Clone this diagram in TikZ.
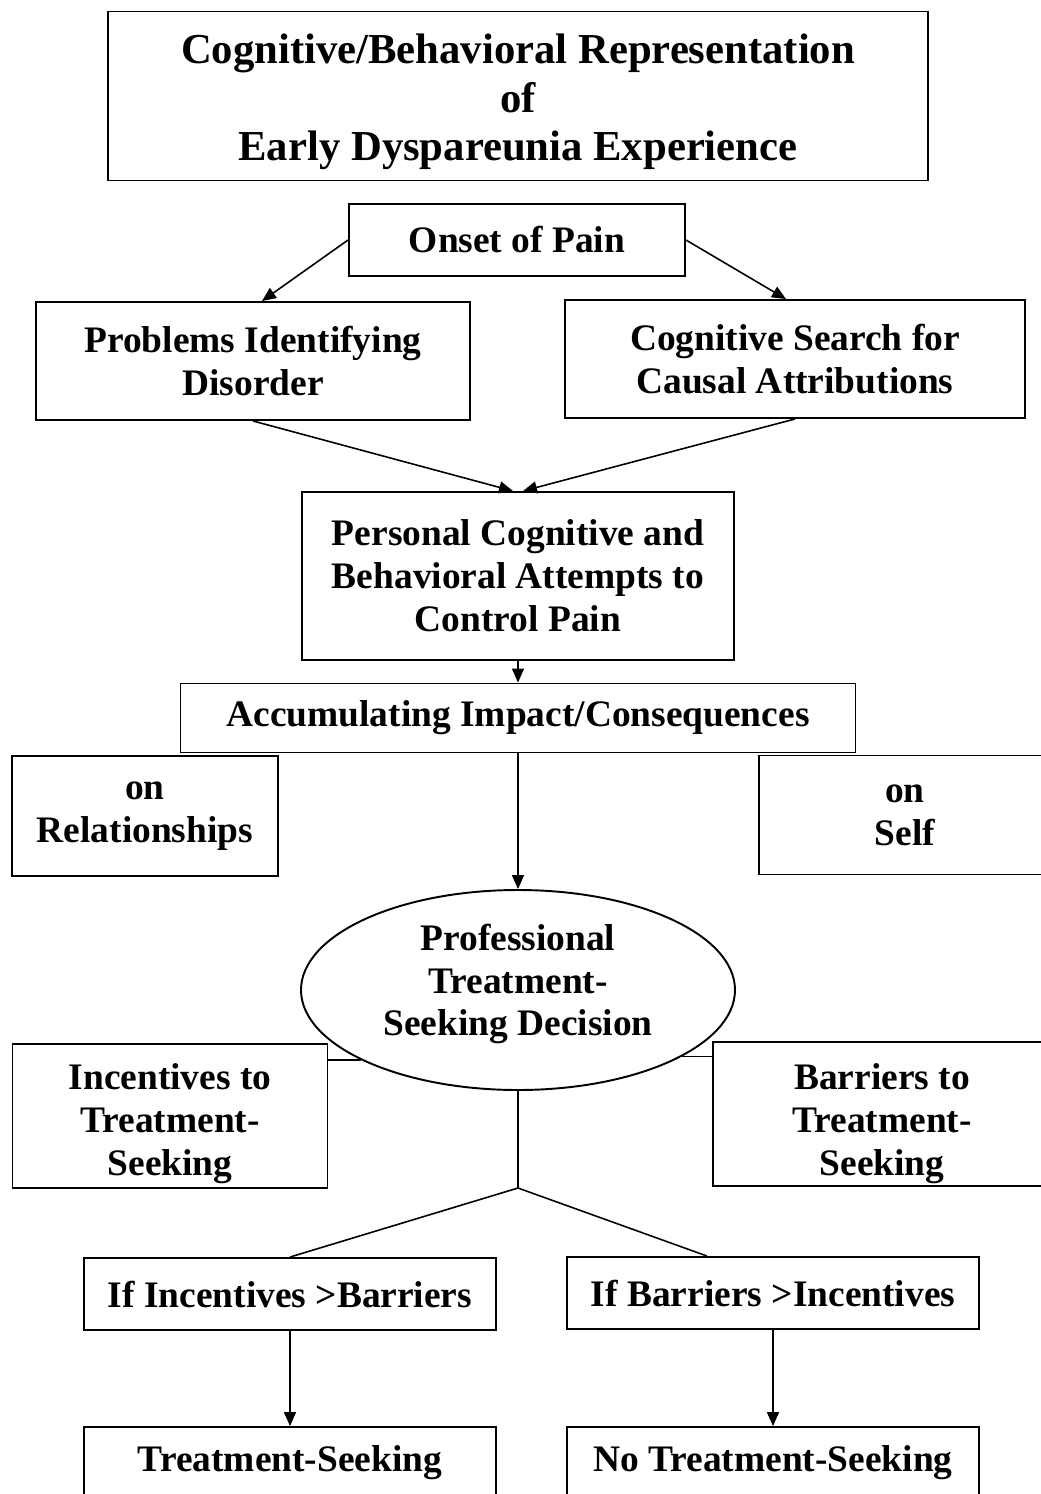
\documentclass[tikz,border=0pt]{standalone}
\usepackage{fontspec}
\setmainfont{Liberation Serif}
\usetikzlibrary{shapes.geometric,arrows.meta}

\newcommand{\drop}[1]{\rule{0pt}{#1}}

\tikzset{
  box/.style={draw, line width=1.1pt, align=center, inner sep=0pt,
    font=\fontsize{21.3}{24.4}\selectfont\bfseries},
  wh/.style 2 args={minimum width=#1*0.02cm, minimum height=#2*0.02cm},
  raise/.style={execute at end node={\rule[-#1]{0pt}{#1}}},
  link/.style={line width=0.9pt},
  flow/.style={line width=0.9pt, -{Triangle[length=0.28cm,width=0.24cm]}},
}

\begin{document}
\begin{tikzpicture}[x=0.02cm, y=-0.02cm]
  \clip (0,0) rectangle (1041,1494);
  % title and first steps
  \node[box, wh={820}{169}, font=\fontsize{24.3}{27.5}\selectfont\bfseries] (title) at (518,96)
    {\drop{23.6pt}Cognitive/Behavioral Representation\\of\\Early Dyspareunia Experience};
  \node[box, wh={336}{72}] (onset) at (517,240) {Onset of Pain};
  \node[box, wh={434}{118}] (problems) at (253,361) {Problems Identifying\\Disorder};
  \node[box, wh={460}{118}] (search) at (795,359) {Cognitive Search for\\Causal Attributions};
  \node[box, wh={432}{168}] (personal) at (518,576) {Personal Cognitive and\\Behavioral Attempts to\\Control Pain};
  \node[box, wh={675}{69}] (accum) at (518,718) {Accumulating Impact/Consequences};
  \node[box, wh={266}{120}] (relation) at (145,816) {on\\Relationships};
  \node[box, wh={292}{119}] (self) at (905,815) {on\\Self};
  % decision
  \node[box, ellipse, wh={434}{200}, raise=11.5pt] (decision) at (518,990) {Professional\\Treatment-\\Seeking Decision};
  \node[box, wh={315}{144}] (incent) at (170,1116) {\drop{23.5pt}Incentives to\\Treatment-\\Seeking};
  \node[box, wh={338}{144}] (barrier) at (882,1114) {\drop{26pt}Barriers to\\Treatment-\\Seeking};
  \node[box, wh={412}{72}] (ifinc) at (290,1294) {If Incentives >Barriers};
  \node[box, wh={412}{72}] (ifbar) at (773,1293) {If Barriers >Incentives};
  \node[box, wh={412}{72}] (treat) at (290,1463) {Treatment-Seeking};
  \node[box, wh={412}{72}] (notreat) at (773,1463) {No Treatment-Seeking};
  \coordinate (fork) at (518,1188);

  \draw[flow] (onset.west) -- ([xshift=0.18cm]problems.north);
  \draw[flow] (onset.east) -- ([xshift=-0.18cm]search.north);
  \draw[flow] (problems.south) -- ([xshift=-0.1cm]personal.north);
  \draw[flow] (search.south) -- ([xshift=0.1cm]personal.north);
  \draw[flow] (personal) -- (accum);
  \draw[flow] (accum) -- (decision);
  \draw[link] (decision.204) -- (decision.204 -| incent.east);
  \draw[link] (decision.338) -- (decision.338 -| barrier.west);
  \draw[link] (decision.south) -- (fork);
  \draw[link] (ifinc.north) -- (fork) -- ([xshift=2.82cm]ifbar.north west);
  \draw[flow] (ifinc) -- (treat);
  \draw[flow] (ifbar) -- (notreat);
\end{tikzpicture}
\end{document}
